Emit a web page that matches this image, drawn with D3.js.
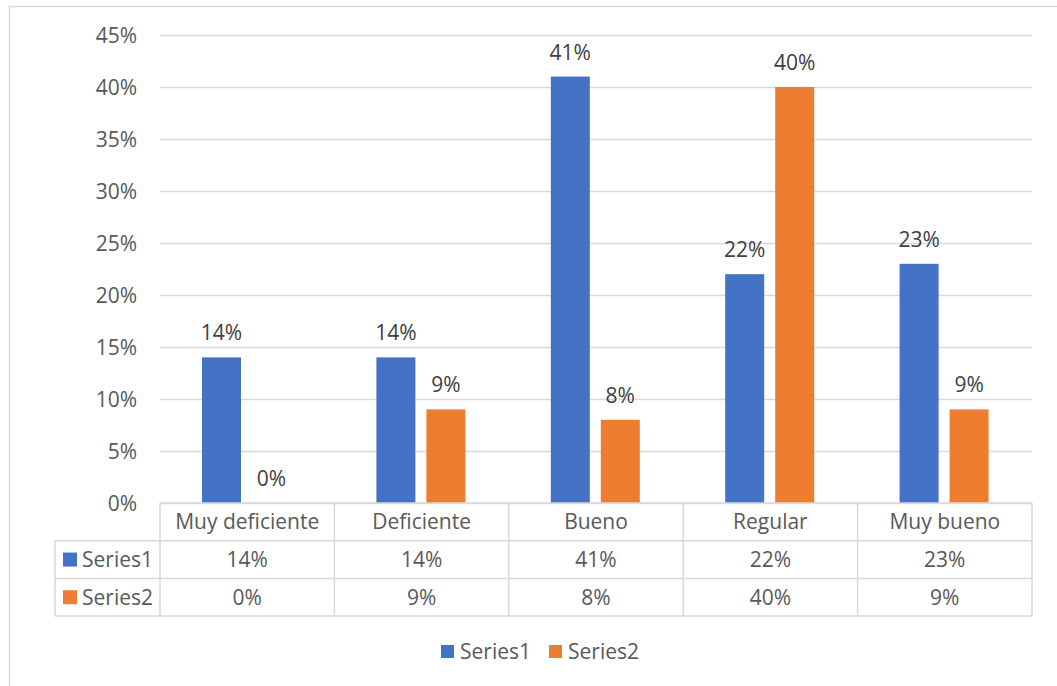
<!DOCTYPE html>
<html>
<head>
  <meta charset="utf-8">
  <title>Series chart</title>
  <style>
    body { margin: 0; background: #fff; }
    svg text { font-family: "Open Sans", sans-serif; }
  </style>
  <script src="https://cdn.jsdelivr.net/npm/d3@7"></script>
</head>
<body>
<div id="chart"></div>
<script>
  var categories = ['Muy deficiente', 'Deficiente', 'Bueno', 'Regular', 'Muy bueno'];
  var seriesNames = ['Series1', 'Series2'];
  var series1 = [0.14, 0.14, 0.41, 0.22, 0.23];
  var series2 = [0.00, 0.09, 0.08, 0.40, 0.09];
  var yTicks = [0, 0.05, 0.10, 0.15, 0.20, 0.25, 0.30, 0.35, 0.40, 0.45];
  var colors = ['#4472c4', '#ed7d31'];

  var W = 1057, H = 686;
  var plot = { left: 160, right: 1032, top: 35, bottom: 503 };
  var rowH = 37.7;
  var tableLeft = 55;
  var fs = 21;

  var svg = d3.select('#chart').append('svg').attr('width', W).attr('height', H);

  // outer chart border (only top & left visible in the crop)
  svg.append('path')
    .attr('d', 'M9.5,' + H + ' V6.5 H' + W)
    .attr('fill', 'none').attr('stroke', '#d9d9d9').attr('stroke-width', 1.5);

  var x = d3.scaleBand().domain(categories).range([plot.left, plot.right]);
  var xs = d3.scaleBand().domain(seriesNames).range([42, 42 + 39 * 2 + 11]).paddingInner(11 / 50);
  var y = d3.scaleLinear().domain([0, 0.45]).range([plot.bottom, plot.top]);
  var pct = d3.format('.0%');

  // gridlines
  svg.append('g').selectAll('line').data(yTicks).join('line')
    .attr('x1', plot.left).attr('x2', plot.right)
    .attr('y1', function (d) { return Math.round(y(d)) + 0.5; })
    .attr('y2', function (d) { return Math.round(y(d)) + 0.5; })
    .attr('stroke', '#d9d9d9').attr('stroke-width', 1.3);

  // y axis labels
  var yAxis = d3.axisLeft(y).tickValues(yTicks).tickFormat(pct).tickSize(0).tickPadding(23);
  var ga = svg.append('g').attr('transform', 'translate(' + plot.left + ',0)').call(yAxis);
  ga.select('.domain').remove();
  ga.selectAll('text').attr('font-size', fs).attr('fill', '#595959').attr('dy', '0.36em')
    .style('font-family', '"Open Sans", sans-serif');

  var rows = seriesNames.map(function (s, i) {
    var vals = i === 0 ? series1 : series2;
    return categories.map(function (c, j) { return { cat: c, s: s, v: vals[j], i: i }; });
  });
  var flat = rows[0].concat(rows[1]);

  // bars
  svg.append('g').selectAll('rect').data(flat).join('rect')
    .attr('x', function (d) { return x(d.cat) + xs(d.s); })
    .attr('width', xs.bandwidth())
    .attr('y', function (d) { return y(d.v); })
    .attr('height', function (d) { return y(0) - y(d.v); })
    .attr('fill', function (d) { return colors[d.i]; });

  // data labels
  svg.append('g').selectAll('text').data(flat).join('text')
    .attr('x', function (d) { return x(d.cat) + xs(d.s) + xs.bandwidth() / 2; })
    .attr('y', function (d) { return y(d.v) - 17; })
    .attr('text-anchor', 'middle').attr('font-size', fs).attr('fill', '#404040')
    .text(function (d) { return pct(d.v); });

  // data table
  var tb = svg.append('g');
  var hLines = [
    { x1: plot.left, x2: plot.right, y: plot.bottom },
    { x1: tableLeft, x2: plot.right, y: plot.bottom + rowH },
    { x1: tableLeft, x2: plot.right, y: plot.bottom + 2 * rowH },
    { x1: tableLeft, x2: plot.right, y: plot.bottom + 3 * rowH }
  ];
  tb.selectAll('line.h').data(hLines).join('line').attr('class', 'h')
    .attr('x1', function (d) { return d.x1; }).attr('x2', function (d) { return d.x2; })
    .attr('y1', function (d) { return d.y; }).attr('y2', function (d) { return d.y; })
    .attr('stroke', '#d9d9d9').attr('stroke-width', 1.5);
  var vx = [plot.left].concat(categories.map(function (c) { return x(c) + x.bandwidth(); }));
  tb.selectAll('line.v').data(vx).join('line').attr('class', 'v')
    .attr('x1', function (d) { return d; }).attr('x2', function (d) { return d; })
    .attr('y1', plot.bottom).attr('y2', plot.bottom + 3 * rowH)
    .attr('stroke', '#d9d9d9').attr('stroke-width', 1.5);
  tb.append('line')
    .attr('x1', tableLeft).attr('x2', tableLeft)
    .attr('y1', plot.bottom + rowH).attr('y2', plot.bottom + 3 * rowH)
    .attr('stroke', '#d9d9d9').attr('stroke-width', 1.5);

  tb.selectAll('text.cat').data(categories).join('text').attr('class', 'cat')
    .attr('x', function (d) { return x(d) + x.bandwidth() / 2; })
    .attr('y', plot.bottom + rowH / 2 + 7.5)
    .attr('text-anchor', 'middle').attr('font-size', fs).attr('fill', '#595959')
    .text(function (d) { return d; });

  tb.selectAll('text.val').data(flat).join('text').attr('class', 'val')
    .attr('x', function (d) { return x(d.cat) + x.bandwidth() / 2; })
    .attr('y', function (d) { return plot.bottom + rowH * (d.i + 1) + rowH / 2 + 7.5; })
    .attr('text-anchor', 'middle').attr('font-size', fs).attr('fill', '#595959')
    .text(function (d) { return pct(d.v); });

  var key = tb.selectAll('g.key').data(seriesNames).join('g').attr('class', 'key')
    .attr('transform', function (d, i) { return 'translate(63,' + (plot.bottom + rowH * (i + 1)) + ')'; });
  key.append('rect').attr('x', 0).attr('y', rowH / 2 - 7).attr('width', 14).attr('height', 14)
    .attr('fill', function (d, i) { return colors[i]; });
  key.append('text').attr('x', 19).attr('y', rowH / 2 + 7.5)
    .attr('font-size', fs).attr('fill', '#595959').text(function (d) { return d; });

  // legend
  var legX = [441, 549];
  var leg = svg.append('g').selectAll('g').data(seriesNames).join('g')
    .attr('transform', function (d, i) { return 'translate(' + legX[i] + ',645)'; });
  leg.append('rect').attr('x', 0).attr('y', 0).attr('width', 13).attr('height', 13)
    .attr('fill', function (d, i) { return colors[i]; });
  leg.append('text').attr('x', 19).attr('y', 14)
    .attr('font-size', fs).attr('fill', '#595959').text(function (d) { return d; });
</script>
</body>
</html>
